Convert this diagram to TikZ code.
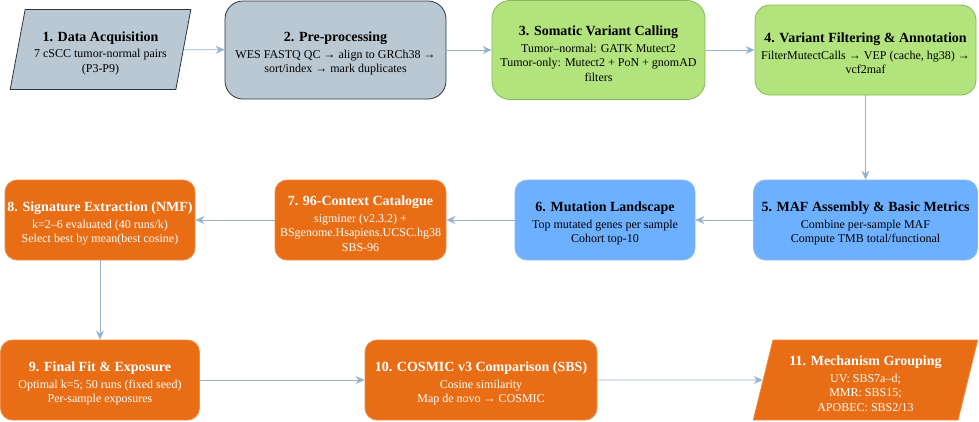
\documentclass[tikz,border=0pt]{standalone}
\usepackage{fontspec}
\setmainfont{Liberation Serif}[BoldFont={Liberation Serif Bold}]
\usetikzlibrary{arrows.meta,shapes.geometric}
\definecolor{greyfill}{HTML}{BAC8D3}
\definecolor{greyline}{HTML}{2A3540}
\definecolor{greenfill}{HTML}{B3E37C}
\definecolor{greenline}{HTML}{82BA58}
\definecolor{bluefill}{HTML}{6DB0FF}
\definecolor{blueline}{HTML}{8DBAF2}
\definecolor{orangefill}{HTML}{E86D15}
\definecolor{orangeline}{HTML}{F08A40}
\definecolor{flowline}{HTML}{93B3D0}
\newcommand\ttl[1]{{\fontsize{14}{16}\selectfont\bfseries\rule{0pt}{17pt}#1}}
\tikzset{box/.style={rounded corners=12pt,draw,line width=0.8pt,align=center,inner sep=2pt,font=\fontsize{12}{14.5}\selectfont}}
\tikzset{greybox/.style={box,fill=greyfill,draw=greyline,text=black}}
\tikzset{greenbox/.style={box,fill=greenfill,draw=greenline,text=black}}
\tikzset{bluebox/.style={box,fill=bluefill,draw=blueline,text=black}}
\tikzset{orangebox/.style={box,fill=orangefill,draw=orangeline,text=white}}
\tikzset{slanted/.style={trapezium,trapezium left angle=76,trapezium right angle=104,trapezium stretches=true,sharp corners}}
\tikzset{flow/.style={-{Stealth[length=9pt,width=8pt,inset=3pt]},draw=flowline,line width=0.8pt}}

\begin{document}
\begin{tikzpicture}[x=1pt,y=-1pt]
    \useasboundingbox (0,0) rectangle (979,421);
    % row 1
    \node [greybox,slanted,minimum width=181pt,minimum height=80pt] (acq) at (100.5,49.5)
        {\ttl{1. Data Acquisition}\\[2pt]7 cSCC tumor-normal pairs\\(P3-P9)};
    \node [greybox,rounded corners=18pt,minimum width=221pt,minimum height=98pt] (pre) at (335.5,50)
        {\ttl{2. Pre-processing}\\[2pt]WES FASTQ QC → align to GRCh38 →\\sort/index → mark duplicates};
    \node [greenbox,rounded corners=18pt,minimum width=213pt,minimum height=99pt] (call) at (598.5,50)
        {\ttl{3. Somatic Variant Calling}\\[2pt]Tumor–normal: GATK Mutect2\\Tumor-only: Mutect2 + PoN + gnomAD\\filters};
    \node [greenbox,rounded corners=15pt,minimum width=221pt,minimum height=90pt] (filt) at (865.5,50)
        {\ttl{4. Variant Filtering \& Annotation}\\[2pt]FilterMutectCalls → VEP (cache, hg38) →\\vcf2maf};
    % row 2
    \node [bluebox,minimum width=224pt,minimum height=80pt] (maf) at (865.5,220)
        {\ttl{5. MAF Assembly \& Basic Metrics}\\[2pt]Combine per-sample MAF\\Compute TMB total/functional};
    \node [bluebox,minimum width=180pt,minimum height=80pt] (land) at (605,220)
        {\ttl{6. Mutation Landscape}\\[2pt]Top mutated genes per sample\\Cohort top-10};
    \node [orangebox,minimum width=171pt,minimum height=80pt] (cat) at (360.5,220)
        {\ttl{7. 96-Context Catalogue}\\[2pt]sigminer (v2.3.2) +\\BSgenome.Hsapiens.UCSC.hg38\\SBS-96};
    \node [orangebox,minimum width=190pt,minimum height=80pt] (nmf) at (100,220)
        {\ttl{8. Signature Extraction (NMF)}\\[2pt]k=2–6 evaluated (40 runs/k)\\Select best by mean(best cosine)};
    % row 3
    \node [orangebox,minimum width=199pt,minimum height=80pt] (fit) at (100,380)
        {\ttl{9. Final Fit \& Exposure}\\[2pt]Optimal k=5; 50 runs (fixed seed)\\Per-sample exposures};
    \node [orangebox,minimum width=232pt,minimum height=80pt] (cos) at (481,380)
        {\ttl{10. COSMIC v3 Comparison (SBS)}\\[2pt]Cosine similarity\\Map de novo → COSMIC};
    \node [orangebox,slanted,minimum width=225pt,minimum height=80pt] (mech) at (865.5,380)
        {\ttl{11. Mechanism Grouping}\\[2pt]UV: SBS7a–d;\\MMR: SBS15;\\APOBEC: SBS2/13};
    % connectors
    \draw [flow] (acq) -- (pre);
    \draw [flow] (pre) -- (call);
    \draw [flow] (call) -- (filt);
    \draw [flow] (filt) -- (maf);
    \draw [flow] (maf) -- (land);
    \draw [flow] (land) -- (cat);
    \draw [flow] (cat) -- (nmf);
    \draw [flow] (nmf) -- (fit);
    \draw [flow] (fit) -- (cos);
    \draw [flow] (cos) -- (mech);
\end{tikzpicture}
\end{document}
